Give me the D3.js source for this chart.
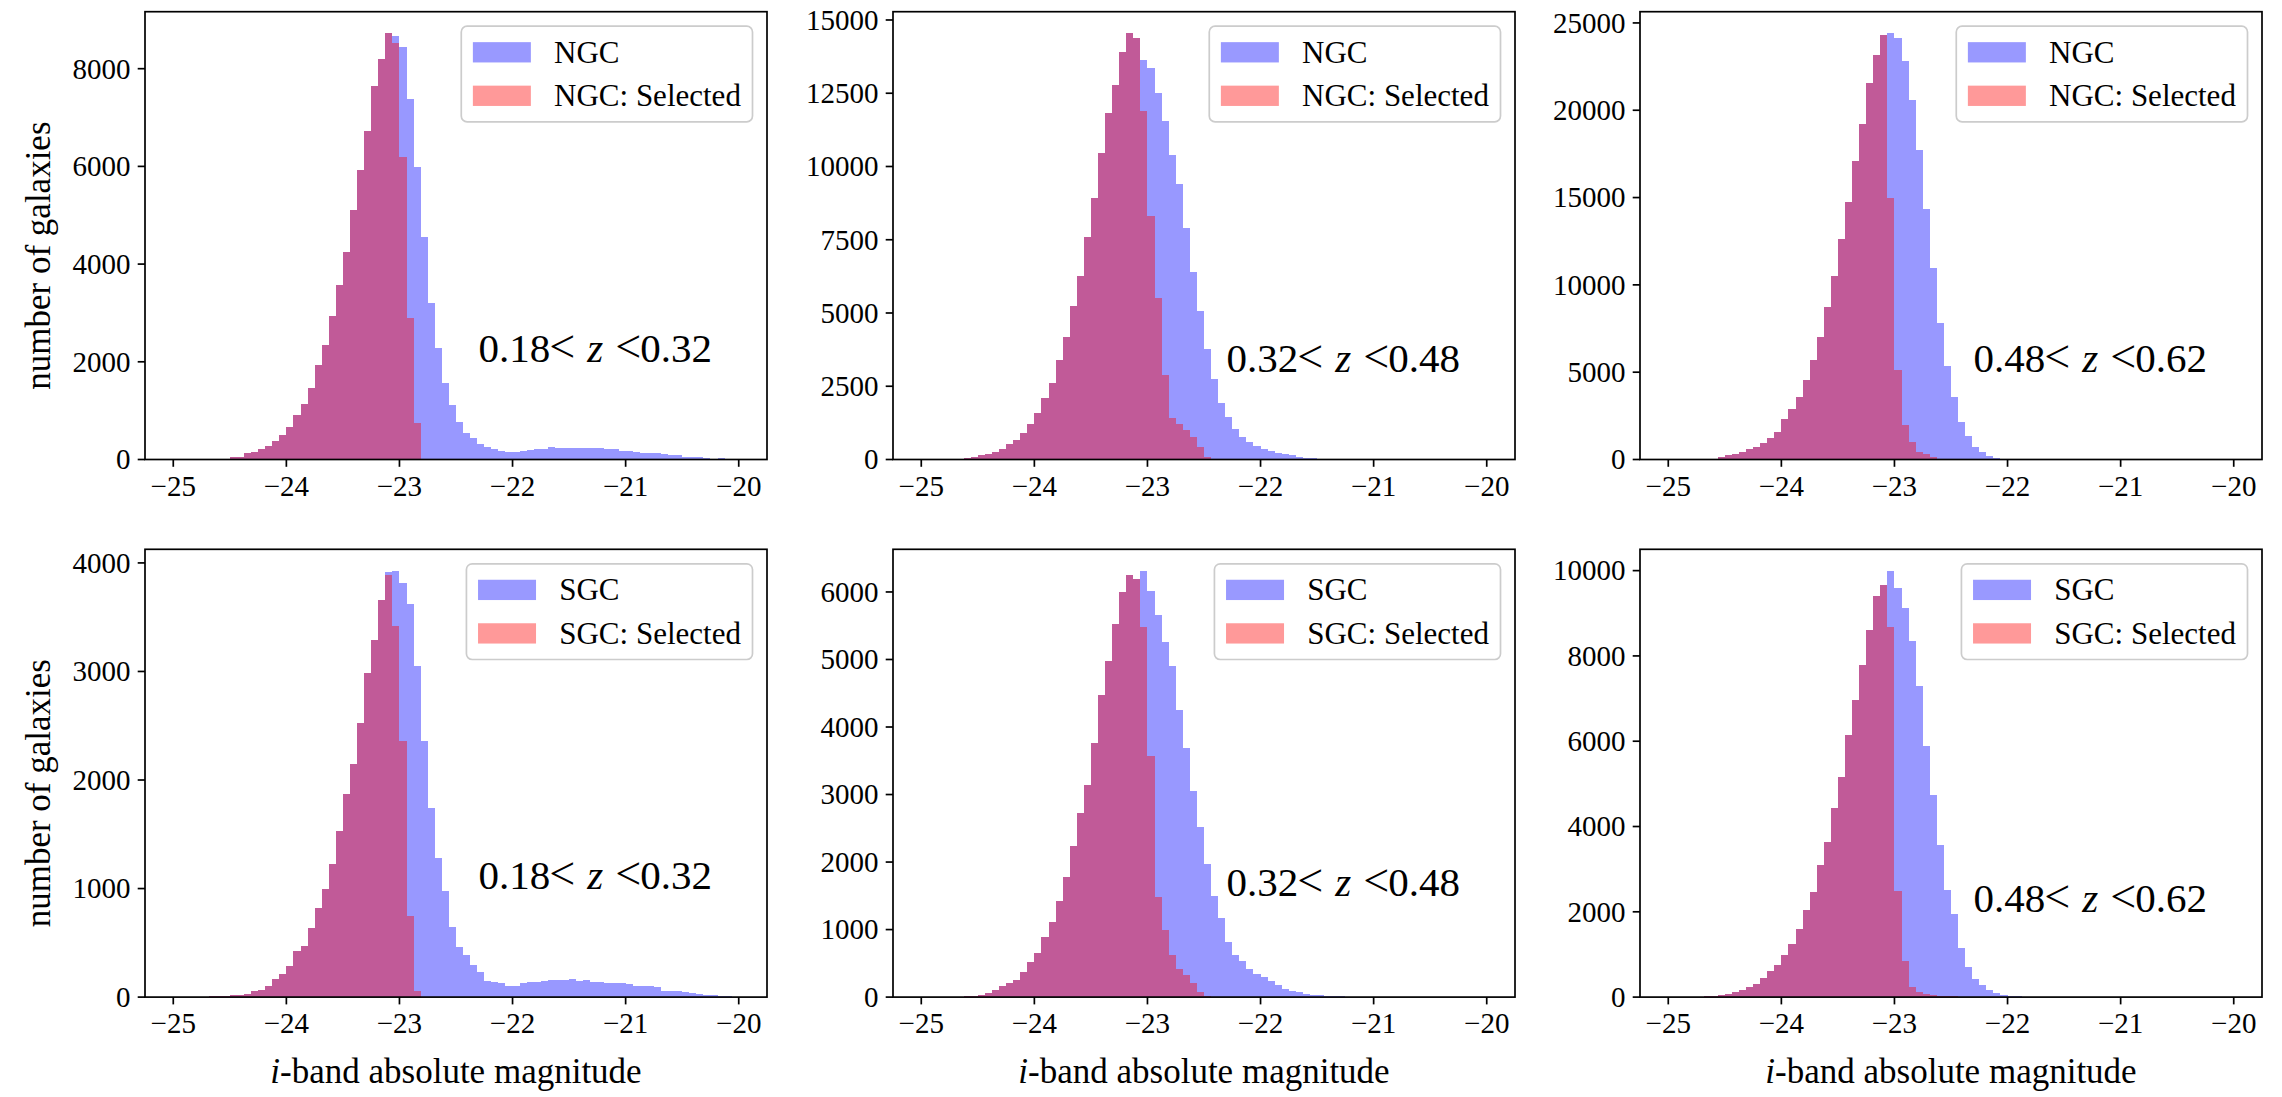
<!DOCTYPE html>
<html><head><meta charset="utf-8">
<script src="https://cdn.jsdelivr.net/npm/d3@7"></script>
<style>
body{margin:0;background:#fff;}
svg text{font-family:"Liberation Serif","Times New Roman",serif;fill:#000;}
</style>
</head><body>
<svg id="chart" width="2282" height="1097"></svg>
<script>
// ---------- DATA ----------
// histogram bins: 80 equal bins from -25 to -20 (i-band absolute magnitude)
const binStart = -25, binEnd = -20, binCount = 80;
const xTicks = [-25, -24, -23, -22, -21, -20];

// NGC, 0.18 < z < 0.32
const ngc1Blue = [0,0,0,0,0,0,0,0,41,55,123,157,205,273,375,498,669,901,1126,1454,1925,2341,2942,3570,4239,5099,5925,6730,7645,8205,8730,8669,8451,7372,5993,4546,3195,2280,1556,1119,758,546,430,314,259,205,177,157,157,177,198,218,225,259,239,232,232,232,232,239,239,212,205,177,170,157,137,130,123,109,96,82,61,48,41,34,20,27,20,0];
const ngc1Red  = [0,0,0,0,0,0,0,0,41,55,123,157,205,273,375,498,669,901,1126,1454,1925,2341,2942,3570,4239,5099,5925,6730,7645,8205,8724,8533,6198,2887,751,0,0,0,0,0,0,0,0,0,0,0,0,0,0,0,0,0,0,0,0,0,0,0,0,0,0,0,0,0,0,0,0,0,0,0,0,0,0,0,0,0,0,0,0,0];
// NGC, 0.32 < z < 0.48
const ngc2Blue = [0,0,0,0,0,0,68,91,137,193,262,375,546,660,888,1206,1570,2082,2617,3391,4188,5234,6270,7578,8910,10469,11812,12790,13894,14555,14372,13632,13370,12494,11561,10389,9388,7886,6406,5075,3755,2731,1934,1456,1035,751,603,467,375,284,228,182,137,91,68,46,23,11,0,0,0,0,0,0,0,0,0,0,0,0,0,0,0,0,0,0,0,0,0,0];
const ngc2Red  = [0,0,0,0,0,0,68,91,137,193,262,375,546,660,888,1206,1570,2082,2617,3391,4188,5234,6270,7578,8910,10469,11812,12790,13894,14543,14372,11891,8318,5496,2879,1400,1206,1001,751,432,91,0,0,0,0,0,0,0,0,0,0,0,0,0,0,0,0,0,0,0,0,0,0,0,0,0,0,0,0,0,0,0,0,0,0,0,0,0,0,0];
// NGC, 0.48 < z < 0.62
const ngc3Blue = [0,0,0,0,0,0,57,115,248,306,401,573,726,917,1242,1586,2293,2905,3593,4548,5695,6994,8714,10530,12632,14772,17084,19225,21556,23180,24327,24422,24136,22836,20601,17734,14333,10988,7835,5370,3593,2159,1338,726,401,191,96,0,0,0,0,0,0,0,0,0,0,0,0,0,0,0,0,0,0,0,0,0,0,0,0,0,0,0,0,0,0,0,0,0];
const ngc3Red  = [0,0,0,0,0,0,57,115,248,306,401,573,726,917,1242,1586,2293,2905,3593,4548,5695,6994,8714,10530,12632,14772,17084,19225,21556,23180,24327,14963,5121,1968,994,440,306,115,0,0,0,0,0,0,0,0,0,0,0,0,0,0,0,0,0,0,0,0,0,0,0,0,0,0,0,0,0,0,0,0,0,0,0,0,0,0,0,0,0,0];
// SGC, 0.18 < z < 0.32
const sgc1Blue = [0,0,0,0,0,6,9,12,15,22,31,52,68,98,166,215,283,421,467,636,820,995,1226,1533,1874,2147,2525,2986,3293,3662,3917,3929,3815,3622,3054,2356,1739,1281,980,642,461,384,298,227,151,138,129,104,104,129,141,135,147,160,160,154,166,144,154,135,135,129,129,129,123,98,98,98,89,52,52,52,43,37,28,18,15,12,12,0];
const sgc1Red  = [0,0,0,0,0,6,9,12,15,22,31,52,68,98,166,215,283,421,467,636,820,995,1226,1533,1874,2147,2525,2986,3293,3662,3892,3416,2356,743,52,0,0,0,0,0,0,0,0,0,0,0,0,0,0,0,0,0,0,0,0,0,0,0,0,0,0,0,0,0,0,0,0,0,0,0,0,0,0,0,0,0,0,0,0,0];
// SGC, 0.32 < z < 0.48
const sgc2Blue = [0,0,0,0,0,0,15,20,35,59,99,158,207,257,365,514,652,889,1111,1427,1778,2242,2726,3146,3763,4469,4982,5526,6000,6256,6197,6316,6010,5664,5254,4909,4257,3689,3057,2518,1970,1501,1170,810,617,528,420,336,291,232,173,119,84,69,49,35,30,20,15,10,0,0,0,0,0,0,0,0,0,0,0,0,0,0,0,0,0,0,0,0];
const sgc2Red  = [0,0,0,0,0,0,15,20,35,59,99,158,207,257,365,514,652,889,1111,1427,1778,2242,2726,3146,3763,4469,4982,5526,6000,6256,6197,5481,3575,1476,988,617,420,331,207,69,20,0,0,0,0,0,0,0,0,0,0,0,0,0,0,0,0,0,0,0,0,0,0,0,0,0,0,0,0,0,0,0,0,0,0,0,0,0,0,0];
// SGC, 0.48 < z < 0.62
const sgc3Blue = [0,0,0,0,0,23,31,47,78,117,172,227,305,446,602,758,977,1251,1603,2049,2463,3104,3628,4433,5161,6138,6959,7788,8601,9414,9672,10000,9594,9125,8343,7287,5896,4738,3573,2518,1955,1149,696,422,274,156,94,55,31,16,0,0,0,0,0,0,0,0,0,0,0,0,0,0,0,0,0,0,0,0,0,0,0,0,0,0,0,0,0,0];
const sgc3Red  = [0,0,0,0,0,23,31,47,78,117,172,227,305,446,602,758,977,1251,1603,2049,2463,3104,3628,4433,5161,6138,6959,7788,8601,9414,9672,8679,2494,837,227,117,78,47,31,23,16,0,0,0,0,0,0,0,0,0,0,0,0,0,0,0,0,0,0,0,0,0,0,0,0,0,0,0,0,0,0,0,0,0,0,0,0,0,0,0];

const yTicksN1 = [0, 2000, 4000, 6000, 8000];
const yTicksN2 = [0, 2500, 5000, 7500, 10000, 12500, 15000];
const yTicksN3 = [0, 5000, 10000, 15000, 20000, 25000];
const yTicksS1 = [0, 1000, 2000, 3000, 4000];
const yTicksS2 = [0, 1000, 2000, 3000, 4000, 5000, 6000];
const yTicksS3 = [0, 2000, 4000, 6000, 8000, 10000];

const capNames = ["NGC", "NGC", "NGC", "SGC", "SGC", "SGC"];
const zLow  = ["0.18", "0.32", "0.48", "0.18", "0.32", "0.48"];
const zHigh = ["0.32", "0.48", "0.62", "0.32", "0.48", "0.62"];
// annotation anchor in data units (x magnitude, y count)
const annX = -22.3;
const annY = [2000, 3000, 5000, 1000, 1500, 2000];

const blueSeries = [ngc1Blue, ngc2Blue, ngc3Blue, sgc1Blue, sgc2Blue, sgc3Blue];
const redSeries  = [ngc1Red, ngc2Red, ngc3Red, sgc1Red, sgc2Red, sgc3Red];
const yTickSets  = [yTicksN1, yTicksN2, yTicksN3, yTicksS1, yTicksS2, yTicksS3];

// ---------- LAYOUT / STYLE ----------
const colX = [145, 893, 1640], axW = 622;
const rowY = [11.7, 549.3], axH = 447.8;
const FS_TICK = 29, FS_LEG = 29, FS_LEGTXT = 31, FS_LABEL = 35, FS_ANN = 41, FS_REL = 46;
const LW = 1.7, TICK = 7.3;

const svg = d3.select("#chart");
const binW = (binEnd - binStart) / binCount;
const edges = d3.range(binCount + 1).map(i => binStart + i * binW);

for (let p = 0; p < 6; p++) {
  const col = p % 3, row = Math.floor(p / 3);
  const L = colX[col], T = rowY[row], R = L + axW, B = T + axH;
  const blue = blueSeries[p], red = redSeries[p];
  const ymax = 1.05 * d3.max(blue.concat(red));
  const x = d3.scaleLinear().domain([binStart - 0.05 * (binEnd - binStart), binEnd + 0.05 * (binEnd - binStart)]).range([L, R]);
  const y = d3.scaleLinear().domain([0, ymax]).range([B, T]);
  const g = svg.append("g");

  const drawHist = (vals, color) => {
    const gg = g.append("g").attr("opacity", 0.4);
    gg.selectAll("rect").data(vals.map((v, i) => ({v, i})).filter(d => d.v > 0))
      .enter().append("rect")
      .attr("x", d => x(edges[d.i]))
      .attr("width", d => x(edges[d.i + 1]) - x(edges[d.i]))
      .attr("y", d => y(d.v))
      .attr("height", d => y(0) - y(d.v))
      .attr("fill", color)
      .attr("shape-rendering", "crispEdges");
  };
  drawHist(blue, "#0000ff");
  drawHist(red, "#ff0000");

  // axes (spines)
  g.append("rect").attr("x", L).attr("y", T).attr("width", axW).attr("height", axH)
    .attr("fill", "none").attr("stroke", "#000").attr("stroke-width", LW);

  // x ticks
  xTicks.forEach(t => {
    g.append("line").attr("x1", x(t)).attr("x2", x(t)).attr("y1", B).attr("y2", B + TICK)
      .attr("stroke", "#000").attr("stroke-width", LW);
    g.append("text").attr("x", x(t)).attr("y", B + 36).attr("text-anchor", "middle")
      .attr("font-size", FS_TICK).text((t < 0 ? "\u2212" : "") + Math.abs(t));
  });
  // y ticks
  yTickSets[p].forEach(t => {
    g.append("line").attr("x1", L - TICK).attr("x2", L).attr("y1", y(t)).attr("y2", y(t))
      .attr("stroke", "#000").attr("stroke-width", LW);
    g.append("text").attr("x", L - TICK - 7.3).attr("y", y(t)).attr("dy", "0.34em")
      .attr("text-anchor", "end").attr("font-size", FS_TICK).text(String(t));
  });

  // annotation  (math-style spacing around the relations)
  const ann = g.append("text").attr("x", x(annX)).attr("y", y(annY[p])).attr("font-size", FS_ANN);
  ann.append("tspan").text(zLow[p]);
  ann.append("tspan").attr("dx", -1).attr("font-size", FS_REL).text("<");
  ann.append("tspan").attr("dx", 12).attr("font-style", "italic").text("z");
  ann.append("tspan").attr("dx", 12).attr("font-size", FS_REL).text("<");
  ann.append("tspan").attr("dx", -1).text(zHigh[p]);

  // legend
  const pad = 0.4 * FS_LEG, hl = 2 * FS_LEG, hh = 0.7 * FS_LEG, htp = 0.8 * FS_LEG, ls = 0.5 * FS_LEG;
  const lg = g.append("g");
  const box = lg.append("rect");
  const labels = [capNames[p], capNames[p] + ": Selected"];
  const colors = ["#0000ff", "#ff0000"];
  const texts = labels.map((s, k) => lg.append("text").attr("font-size", FS_LEGTXT).text(s));
  const tw = d3.max(texts, t => t.node().getComputedTextLength());
  const bw = pad + hl + htp + tw + pad, bh = 2 * pad + 2 * FS_LEG + ls;
  const bx = R - 0.5 * FS_LEG - bw, by = T + 0.5 * FS_LEG;
  box.attr("x", bx).attr("y", by).attr("width", bw).attr("height", bh)
    .attr("rx", 0.2 * FS_LEG).attr("ry", 0.2 * FS_LEG)
    .attr("fill", "#fff").attr("fill-opacity", 0.8).attr("stroke", "#cccccc").attr("stroke-width", 1.7);
  labels.forEach((s, k) => {
    const cy = by + pad + FS_LEG / 2 + k * (FS_LEG + ls);
    lg.insert("rect", "text").attr("x", bx + pad).attr("y", cy - hh / 2).attr("width", hl).attr("height", hh)
      .attr("fill", colors[k]).attr("fill-opacity", 0.4);
    texts[k].attr("x", bx + pad + hl + htp).attr("y", cy).attr("dy", "0.34em");
  });

  // axis labels
  if (row === 1) {
    const xl = g.append("text").attr("x", (L + R) / 2).attr("y", 1083).attr("text-anchor", "middle").attr("font-size", FS_LABEL);
    xl.append("tspan").attr("font-style", "italic").text("i");
    xl.append("tspan").text("-band absolute magnitude");
  }
  if (col === 0) {
    g.append("text").attr("transform", `translate(50,${(T + B) / 2 + 20}) rotate(-90)`)
      .attr("text-anchor", "middle").attr("font-size", FS_LABEL).text("number of galaxies");
  }
}
</script>
</body></html>
